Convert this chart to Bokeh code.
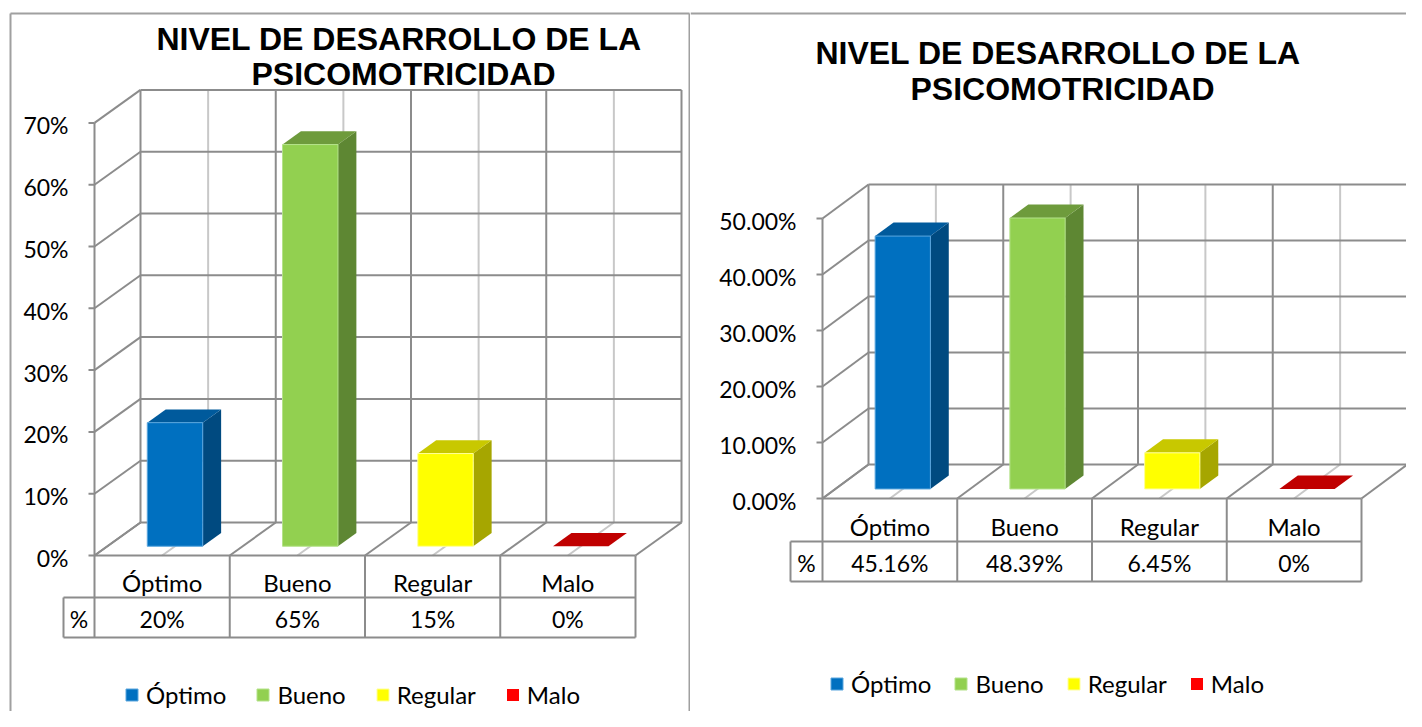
from bokeh.plotting import figure
from bokeh.models import Range1d, Legend, LegendItem, ColumnDataSource
from bokeh.layouts import row
from bokeh.embed import file_html
from bokeh.resources import INLINE
from bokeh.core.properties import value

# ---------------- data ----------------
categories = ["Óptimo", "Bueno", "Regular", "Malo"]
title_lines = ["NIVEL DE  DESARROLLO DE LA", "PSICOMOTRICIDAD"]

left_values = [0.20, 0.65, 0.15, 0.0]
left_table_labels = ["20%", "65%", "15%", "0%"]
left_ticks = [0.0, 0.1, 0.2, 0.3, 0.4, 0.5, 0.6, 0.7]
left_tick_labels = ["0%", "10%", "20%", "30%", "40%", "50%", "60%", "70%"]

right_values = [0.4516, 0.4839, 0.0645, 0.0]
right_table_labels = ["45.16%", "48.39%", "6.45%", "0%"]
right_ticks = [0.0, 0.1, 0.2, 0.3, 0.4, 0.5]
right_tick_labels = ["0.00%", "10.00%", "20.00%", "30.00%", "40.00%", "50.00%"]

# ---------------- styles ----------------
front_colors = ["#0070C0", "#92D050", "#FFFF00", "#FF0000"]
front_edge_colors = ["#5AA6DE", "#B4E28A", "#FFFF99", "#FF7070"]
side_colors = ["#004A80", "#5E8733", "#A6A600", "#A00000"]
top_colors = ["#005A9C", "#6E9B3C", "#C8C800", "#C00000"]
GRID = "#8C8C8C"
GRID_LIGHT = "#C8C8C8"
BORDER = "#A0A0A0"
LABEL_FONT = "Lato"
TITLE_FONT = "Liberation Sans"
H = 711
TOP_PX = 0

left_cfg = dict(fig_left=0, width=690, ox=94, oy=555, ppc=135.25, ppv=618,
                depth=(46, 33), title_cx=403, title_y=(38, 73), label_right=68,
                row1=597, row2=637, pct_left=63, cat_y=582, val_y=618,
                legend_x=124, legend_y=694, legend_spacing=29,
                border_left=10, border_right=689)
right_cfg = dict(fig_left=690, width=716, ox=822, oy=498, ppc=134.75, ppv=560,
                 depth=(46, 34), title_cx=1062, title_y=(52, 88), label_right=796,
                 row1=541, row2=581, pct_left=790, cat_y=526, val_y=562,
                 legend_x=829, legend_y=683, legend_spacing=22,
                 border_left=None, border_right=None)

BAR_W = 0.41      # bar width, category units
D_FRONT = 0.28    # bar front depth fraction
D_DEPTH = 0.40    # bar depth fraction


def build(cfg, values, table_labels, ticks, tick_labels):
    ox, oy, ppc, ppv = cfg["ox"], cfg["oy"], cfg["ppc"], cfg["ppv"]
    X = lambda rx: (rx - ox) / ppc
    Y = lambda ry: (oy - ry) / ppv
    fl, W = cfg["fig_left"], cfg["width"]
    p = figure(width=W, height=H,
               x_range=Range1d(X(fl), X(fl + W)),
               y_range=Range1d(Y(TOP_PX + H), Y(TOP_PX)),
               x_axis_location=None, y_axis_location=None,
               output_backend="svg", toolbar_location=None, min_border=0)
    p.grid.visible = False
    p.outline_line_color = None
    p.background_fill_color = "white"
    p.border_fill_color = "white"

    n = len(categories)
    top = ticks[-1]
    DX = cfg["depth"][0] / ppc
    DY = cfg["depth"][1] / ppv

    # chart border
    bx0, by0, bx1, by1 = [], [], [], []
    ytop = Y(13)
    ybot = Y(TOP_PX + H + 20)
    left_b = cfg["border_left"] if cfg["border_left"] is not None else fl
    right_b = cfg["border_right"] if cfg["border_right"] is not None else fl + W + 20
    bx0.append(X(left_b)); by0.append(ytop); bx1.append(X(right_b)); by1.append(ytop)
    if cfg["border_left"] is not None:
        bx0.append(X(left_b)); by0.append(ytop); bx1.append(X(left_b)); by1.append(ybot)
    if cfg["border_right"] is not None:
        bx0.append(X(right_b)); by0.append(ytop); bx1.append(X(right_b)); by1.append(ybot)
    p.segment(bx0, by0, bx1, by1, line_color=BORDER, line_width=2)

    # title
    for line, ty in zip(title_lines, cfg["title_y"]):
        p.text(x=[X(cfg["title_cx"])], y=[Y(ty)], text=[line],
               text_font=value(TITLE_FONT), text_font_style="bold",
               text_font_size="32px", text_align="center", text_baseline="middle",
               text_color="black")

    dark = dict(x0=[], y0=[], x1=[], y1=[])
    light = dict(x0=[], y0=[], x1=[], y1=[])

    def seg(d, a, b, c, e):
        d["x0"].append(a); d["y0"].append(b); d["x1"].append(c); d["y1"].append(e)

    # back wall
    for t in ticks:
        seg(dark, DX, t + DY, n + DX, t + DY)
    for k in range(2 * n + 1):
        seg(dark if k % 2 == 0 else light, k * 0.5 + DX, DY, k * 0.5 + DX, top + DY)
    # side wall + front axis
    for t in ticks:
        seg(dark, 0, t, DX, t + DY)
        seg(dark, -6 / ppc, t, 0, t)
    seg(dark, 0, 0, 0, top)
    # floor
    seg(dark, 0, 0, n, 0)
    for k in range(2 * n + 1):
        seg(dark if k % 2 == 0 else light, k * 0.5, 0, k * 0.5 + DX, DY)
    # data table
    r1, r2, pl = Y(cfg["row1"]), Y(cfg["row2"]), X(cfg["pct_left"])
    for k in range(n + 1):
        seg(dark, k, 0, k, r2)
    seg(dark, pl, r1, pl, r2)
    seg(dark, pl, r1, n, r1)
    seg(dark, pl, r2, n, r2)

    p.segment(light["x0"], light["y0"], light["x1"], light["y1"], line_color=GRID_LIGHT, line_width=2)
    p.segment(dark["x0"], dark["y0"], dark["x1"], dark["y1"], line_color=GRID, line_width=2)

    # tick labels
    p.text(x=[X(cfg["label_right"])] * len(ticks), y=[t - 2.5 / ppv for t in ticks],
           text=tick_labels, text_font=value(LABEL_FONT), text_font_size="23px",
           text_align="right", text_baseline="middle", text_color="black")

    # table texts
    cx = [i + 0.5 for i in range(n)]
    p.text(x=cx, y=[Y(cfg["cat_y"])] * n, text=categories, text_font=value(LABEL_FONT),
           text_font_size="24px", text_align="center", text_baseline="middle", text_color="black")
    p.text(x=cx, y=[Y(cfg["val_y"])] * n, text=table_labels, text_font=value(LABEL_FONT),
           text_font_size="23px", text_align="center", text_baseline="middle", text_color="black")
    p.text(x=[(pl + 0) / 2], y=[Y(cfg["val_y"])], text=["%"], text_font=value(LABEL_FONT),
           text_font_size="23px", text_align="center", text_baseline="middle", text_color="black")

    # 3D bars
    fx, fy, sx, sy, tx, ty = [], [], [], [], [], []
    ddx, ddy = D_DEPTH * DX, D_DEPTH * DY
    for i, v in enumerate(values):
        x0 = i + 0.5 - BAR_W / 2 + D_FRONT * DX
        x1 = x0 + BAR_W
        y0 = D_FRONT * DY
        y1 = v + D_FRONT * DY
        fx.append([x0, x1, x1, x0]); fy.append([y0, y0, y1, y1])
        sx.append([x1, x1 + ddx, x1 + ddx, x1]); sy.append([y0, y0 + ddy, y1 + ddy, y1])
        tx.append([x0, x1, x1 + ddx, x0 + ddx]); ty.append([y1, y1, y1 + ddy, y1 + ddy])
    edge = [e if v > 0 else None for e, v in zip(front_edge_colors, values)]
    front_src = ColumnDataSource(dict(xs=fx, ys=fy, c=front_colors, e=edge))
    p.patches(sx, sy, fill_color=side_colors, line_color=None)
    p.patches(tx, ty, fill_color=top_colors, line_color=None)
    fr = p.patches("xs", "ys", source=front_src, fill_color="c", line_color="e", line_width=1)

    # legend
    items = [LegendItem(label=c, renderers=[fr], index=i) for i, c in enumerate(categories)]
    lc = TOP_PX + H - cfg["legend_y"]
    legend = Legend(items=items, orientation="horizontal",
                    location=(cfg["legend_x"] - fl, lc - 15),
                    glyph_width=15, glyph_height=15, label_height=30,
                    label_standoff=7, spacing=cfg["legend_spacing"], padding=0, margin=0,
                    label_text_font=LABEL_FONT, label_text_font_size="24px",
                    label_text_color="black",
                    border_line_color=None, background_fill_alpha=0.0)
    p.add_layout(legend)
    return p


pl_ = build(left_cfg, left_values, left_table_labels, left_ticks, left_tick_labels)
pr_ = build(right_cfg, right_values, right_table_labels, right_ticks, right_tick_labels)
layout = row(pl_, pr_, spacing=0)

open("out.html", "w").write(file_html(layout, INLINE))
